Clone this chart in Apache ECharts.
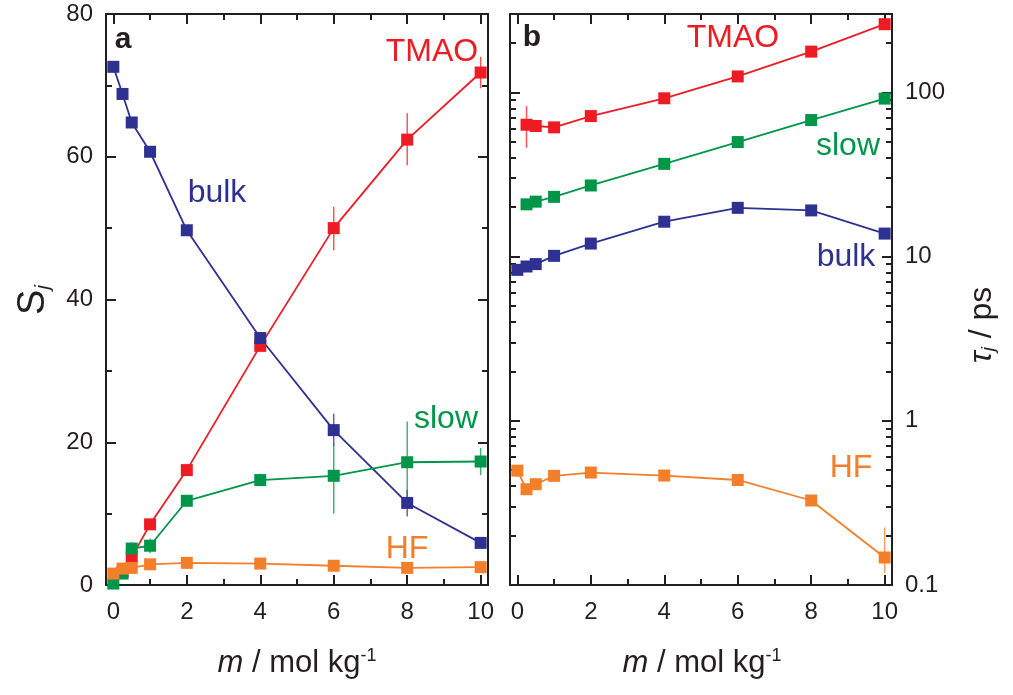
<!DOCTYPE html>
<html><head><meta charset="utf-8">
<script src="https://cdn.jsdelivr.net/npm/echarts@6/dist/echarts.min.js"></script>
<style>html,body{margin:0;padding:0;background:#fff}#c{width:1013px;height:695px}</style>
</head><body><div id="c"></div>
<script>
// ---------- data ----------
const conc = [0, 0.25, 0.5, 1, 2, 4, 6, 8, 10];
// panel a : amplitudes S_j
const S_TMAO = [null, 1.8, 3.9, 8.5, 16.1, 33.5, 50.0, 62.4, 71.8];
const S_bulk = [72.6, 68.8, 64.8, 60.7, 49.7, 34.6, 21.7, 11.5, 5.9];
const S_slow = [0.2, 1.6, 5.1, 5.5, 11.8, 14.7, 15.3, 17.2, 17.3];
const S_HF   = [1.6, 2.3, 2.4, 2.9, 3.1, 3.0, 2.7, 2.4, 2.5];
// error bars [m, low, high]
const S_TMAO_err = [[6, 46.9, 53.0], [8, 58.8, 66.1], [10, 69.6, 74.0]];
const S_bulk_err = [[6, 19.5, 24.0], [8, 9.6, 13.3]];
const S_slow_err = [[0.5, 4.2, 6.0], [1, 4.5, 6.5], [4, 13.9, 15.6], [6, 10.0, 19.9], [8, 11.4, 22.9], [10, 15.4, 19.2]];
// panel b : relaxation times tau_j / ps
const tau_TMAO = [null, 63.5, 62.4, 61.2, 71.7, 92, 125, 177, 260];
const tau_slow = [null, 20.8, 21.6, 23.1, 27.1, 36.7, 49.8, 67.8, 91.6];
const tau_bulk = [8.3, 8.7, 9.0, 10.1, 12.0, 16.3, 19.8, 19.1, 13.8];
const tau_HF   = [0.497, 0.383, 0.411, 0.462, 0.484, 0.464, 0.436, 0.327, 0.147];
const tau_TMAO_err = [[0.25, 46, 82.6], [0.5, 58, 67]];
const tau_bulk_err = [[8, 18.2, 20.0]];
const tau_HF_err = [[0.25, 0.36, 0.41], [10, 0.118, 0.224]];
// ticks
const xMajor = [0, 2, 4, 6, 8, 10];
const xMinor = [1, 3, 5, 7, 9];
const sMajor = [0, 20, 40, 60, 80];
const sMinor = [10, 30, 50, 70];
const tauMajor = [0.1, 1, 10, 100];
const tauMinor = [0.2, 0.3, 0.4, 0.5, 0.6, 0.7, 0.8, 0.9, 2, 3, 4, 5, 6, 7, 8, 9, 20, 30, 40, 50, 60, 70, 80, 90, 200, 300];

// ---------- style ----------
const FONT = 'Liberation Sans, Arial, Helvetica, sans-serif';
const INK = '#231f20';
const C = { TMAO: '#ed1c24', bulk: '#2e3192', slow: '#00964a', HF: '#f47f2a' };

const pairs = (ys) => conc.map((x, i) => [x, ys[i]]).filter(p => p[1] != null);

function xAx(grid, pos, ticks, len, line, labels) {
  return {
    type: 'value', gridIndex: grid, position: pos, min: -0.2, max: 10.2,
    axisLine: { show: line, onZero: false, lineStyle: { color: INK, width: 2 } },
    axisTick: { show: true, inside: true, length: len, customValues: ticks, lineStyle: { color: INK, width: 2 } },
    axisLabel: { show: labels, customValues: ticks, fontSize: 24, color: INK, fontFamily: FONT, margin: 15 },
    splitLine: { show: false }
  };
}
function yAx(grid, pos, type, ticks, len, line, labels) {
  const o = {
    type: type, gridIndex: grid, position: pos,
    axisLine: { show: line, onZero: false, lineStyle: { color: INK, width: 2 } },
    axisTick: { show: true, inside: true, length: len, customValues: ticks, lineStyle: { color: INK, width: 2 } },
    axisLabel: { show: labels, customValues: ticks, fontSize: 24, color: INK, fontFamily: FONT, margin: 13 },
    splitLine: { show: false }
  };
  if (type === 'log') { o.logBase = 10; o.min = 0.1; o.max = 300; }
  else { o.min = 0; o.max = 80; }
  return o;
}

const xAxes = [], yAxes = [];
[0, 1].forEach(g => {
  xAxes.push(xAx(g, 'bottom', xMajor, 10, true, true));
  xAxes.push(xAx(g, 'bottom', xMinor, 6, false, false));
  xAxes.push(xAx(g, 'top', xMajor, 10, true, false));
  xAxes.push(xAx(g, 'top', xMinor, 6, false, false));
});
// panel a
yAxes.push(yAx(0, 'left', 'value', sMajor, 10, true, true));
yAxes.push(yAx(0, 'left', 'value', sMinor, 6, false, false));
yAxes.push(yAx(0, 'right', 'value', sMajor, 10, true, false));
yAxes.push(yAx(0, 'right', 'value', sMinor, 6, false, false));
// panel b
yAxes.push(yAx(1, 'left', 'log', tauMajor, 10, true, false));
yAxes.push(yAx(1, 'left', 'log', tauMinor, 6, false, false));
yAxes.push(yAx(1, 'right', 'log', tauMajor, 10, true, true));
yAxes.push(yAx(1, 'right', 'log', tauMinor, 6, false, false));

function lineS(ax, ys, color) {
  return {
    type: 'line', xAxisIndex: ax, yAxisIndex: ax, data: pairs(ys),
    symbol: 'rect', symbolSize: 12, showSymbol: true, z: 3,
    lineStyle: { color: color, width: 1.8 }, itemStyle: { color: color },
    emphasis: { disabled: true }, silent: true
  };
}
function errS(ax, data, color) {
  return {
    type: 'custom', xAxisIndex: ax, yAxisIndex: ax, data: data, z: 2, silent: true,
    encode: { x: 0, y: [1, 2] },
    renderItem: (params, api) => {
      const a = api.coord([api.value(0), api.value(1)]);
      const b = api.coord([api.value(0), api.value(2)]);
      return { type: 'line', shape: { x1: a[0], y1: a[1], x2: b[0], y2: b[1] },
               style: { stroke: color, lineWidth: 1.5, opacity: 0.75 } };
    }
  };
}

const series = [
  errS(0, S_TMAO_err, C.TMAO), errS(0, S_bulk_err, C.bulk), errS(0, S_slow_err, C.slow),
  lineS(0, S_TMAO, C.TMAO), lineS(0, S_bulk, C.bulk), lineS(0, S_slow, C.slow), lineS(0, S_HF, C.HF),
  errS(4, tau_TMAO_err, C.TMAO), errS(4, tau_bulk_err, C.bulk), errS(4, tau_HF_err, C.HF),
  lineS(4, tau_TMAO, C.TMAO), lineS(4, tau_slow, C.slow), lineS(4, tau_bulk, C.bulk), lineS(4, tau_HF, C.HF)
];

function txt(x, y, text, color, size, extra) {
  return Object.assign({ type: 'text', x: x, y: y, silent: true,
    style: Object.assign({ text: text, fill: color, fontSize: size, fontFamily: FONT,
      align: 'center', verticalAlign: 'middle' }, (extra && extra.style) || {}) },
    extra && extra.rotation ? { rotation: extra.rotation } : {});
}

const titleRich = {
  i: { fontStyle: 'italic', fontSize: 31, fontFamily: FONT, fill: INK },
  sup: { fontSize: 18, fontFamily: FONT, fill: INK, verticalAlign: 'top' }
};

const graphics = [
  txt(123, 40, 'a', INK, 30, { style: { fontWeight: 'bold' } }),
  txt(532, 38, 'b', INK, 30, { style: { fontWeight: 'bold' } }),
  txt(432, 52, 'TMAO', C.TMAO, 32), txt(217, 193, 'bulk', C.bulk, 32),
  txt(446, 419, 'slow', C.slow, 32), txt(407, 549, 'HF', C.HF, 32),
  txt(733, 38, 'TMAO', C.TMAO, 32), txt(848, 146, 'slow', C.slow, 32),
  txt(846, 257, 'bulk', C.bulk, 32), txt(851, 468, 'HF', C.HF, 32),
  txt(297, 663, '{i|m} / mol kg{sup|-1}', INK, 31, { style: { rich: titleRich } }),
  txt(702, 663, '{i|m} / mol kg{sup|-1}', INK, 31, { style: { rich: titleRich } }),
  txt(34, 300, '{s|S}{j|j}', INK, 36, { rotation: Math.PI / 2, style: { rich: {
    s: { fontSize: 38, fontFamily: FONT, fill: INK },
    j: { fontSize: 20, fontStyle: 'italic', fontFamily: FONT, fill: INK, verticalAlign: 'bottom' } } } }),
  txt(982, 325, '{t|τ}{j|j}{n| / ps}', INK, 32, { rotation: Math.PI / 2, style: { rich: {
    t: { fontSize: 32, fontStyle: 'italic', fontFamily: FONT, fill: INK },
    j: { fontSize: 19, fontStyle: 'italic', fontFamily: FONT, fill: INK, verticalAlign: 'bottom' },
    n: { fontSize: 32, fontFamily: FONT, fill: INK } } } })
];

const chart = echarts.init(document.getElementById('c'), null, { renderer: 'canvas' });
chart.setOption({
  animation: false,
  backgroundColor: '#fff',
  grid: [
    { left: 106, right: 525, top: 14, bottom: 110 },
    { left: 510, right: 121, top: 14, bottom: 110 }
  ],
  xAxis: xAxes,
  yAxis: yAxes,
  series: series,
  graphic: graphics
});
</script></body></html>
